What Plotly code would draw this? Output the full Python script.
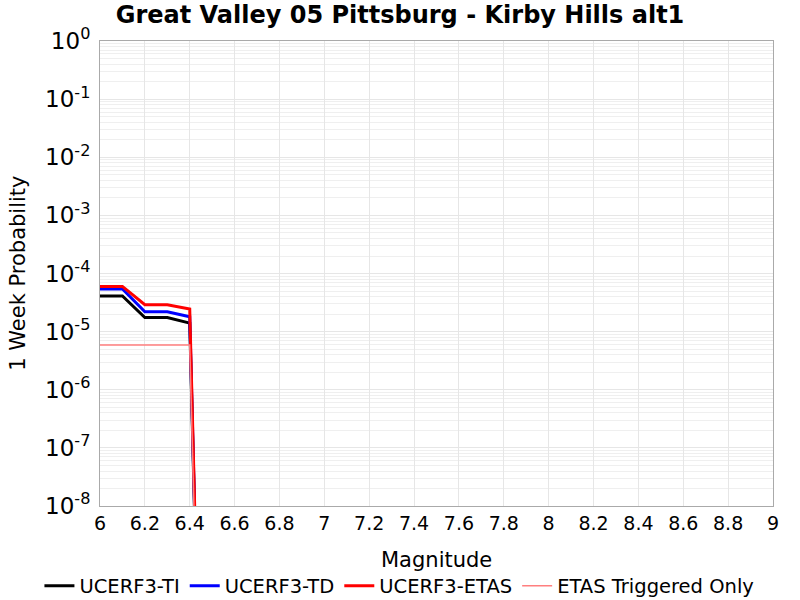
import plotly.graph_objects as go

mags = [6.0, 6.1, 6.2, 6.3, 6.4, 6.5]
ti = [4.1e-5, 4.1e-5, 1.75e-5, 1.75e-5, 1.4e-5, 1e-20]
td = [5.4e-5, 5.4e-5, 2.2e-5, 2.2e-5, 1.8e-5, 1e-20]
etas = [6.0e-5, 6.0e-5, 2.9e-5, 2.9e-5, 2.45e-5, 1e-20]
trig = [5.9e-6, 5.9e-6, 5.9e-6, 5.9e-6, 5.9e-6, 1e-20]

ytickvals = [10.0**e for e in range(-8, 1)]
yticktext = ["10<sup>%d</sup>" % e for e in range(-8, 1)]
xtickvals = [6 + 0.2 * i for i in range(16)]
xticktext = [("%g" % round(v, 1)) for v in xtickvals]

fig = go.Figure()
fig.add_trace(go.Scatter(x=mags, y=ti, mode="lines", name="UCERF3-TI", line=dict(color="black", width=3)))
fig.add_trace(go.Scatter(x=mags, y=td, mode="lines", name="UCERF3-TD", line=dict(color="blue", width=3)))
fig.add_trace(go.Scatter(x=mags, y=etas, mode="lines", name="UCERF3-ETAS", line=dict(color="red", width=3)))
fig.add_trace(go.Scatter(x=mags, y=trig, mode="lines", name="ETAS Triggered Only", line=dict(color="#ff7f7f", width=1.5)))

fig.update_layout(
    width=800, height=600,
    margin=dict(l=100, r=27, t=41, b=94, autoexpand=False),
    plot_bgcolor="white", paper_bgcolor="white",
    font=dict(family="DejaVu Sans", color="black"),
    title=dict(text="<b>Great Valley 05 Pittsburg - Kirby Hills alt1</b>", x=0.5, xanchor="center",
               y=0.99, yanchor="top", font=dict(size=24)),
    legend=dict(orientation="h", xref="paper", x=-0.09, xanchor="left", yref="paper", y=-0.13, yanchor="top",
                font=dict(size=19.5), itemwidth=30, tracegroupgap=0,
                bgcolor="rgba(0,0,0,0)"),
    xaxis=dict(range=[6, 9], tickvals=xtickvals, ticktext=xticktext, tickfont=dict(size=19),
               showgrid=True, gridcolor="#e6e6e6", showline=True, linecolor="#aaaaaa", mirror=True,
               zeroline=False, ticks="", automargin=False),
    yaxis=dict(type="log", range=[-8, 0], tickvals=ytickvals, ticktext=yticktext, tickfont=dict(size=23),
               showgrid=True, gridcolor="#e6e6e6", showline=True, linecolor="#aaaaaa", mirror=True,
               zeroline=False, ticks="", automargin=False, ticklabelstandoff=4,
               minor=dict(showgrid=True, gridcolor="#efefef", tickvals=[m * 10.0**e for e in range(-8, 0) for m in range(2, 10)])),
    annotations=[
        dict(text="Magnitude", xref="paper", yref="paper", x=0.5, y=-0.085, xanchor="center", yanchor="top",
             showarrow=False, font=dict(size=21)),
        dict(text="1 Week Probability", xref="paper", yref="paper", x=-0.123, y=0.5, xanchor="center", yanchor="middle",
             textangle=-90, showarrow=False, font=dict(size=21)),
    ],
)
fig.write_html("out.html")
